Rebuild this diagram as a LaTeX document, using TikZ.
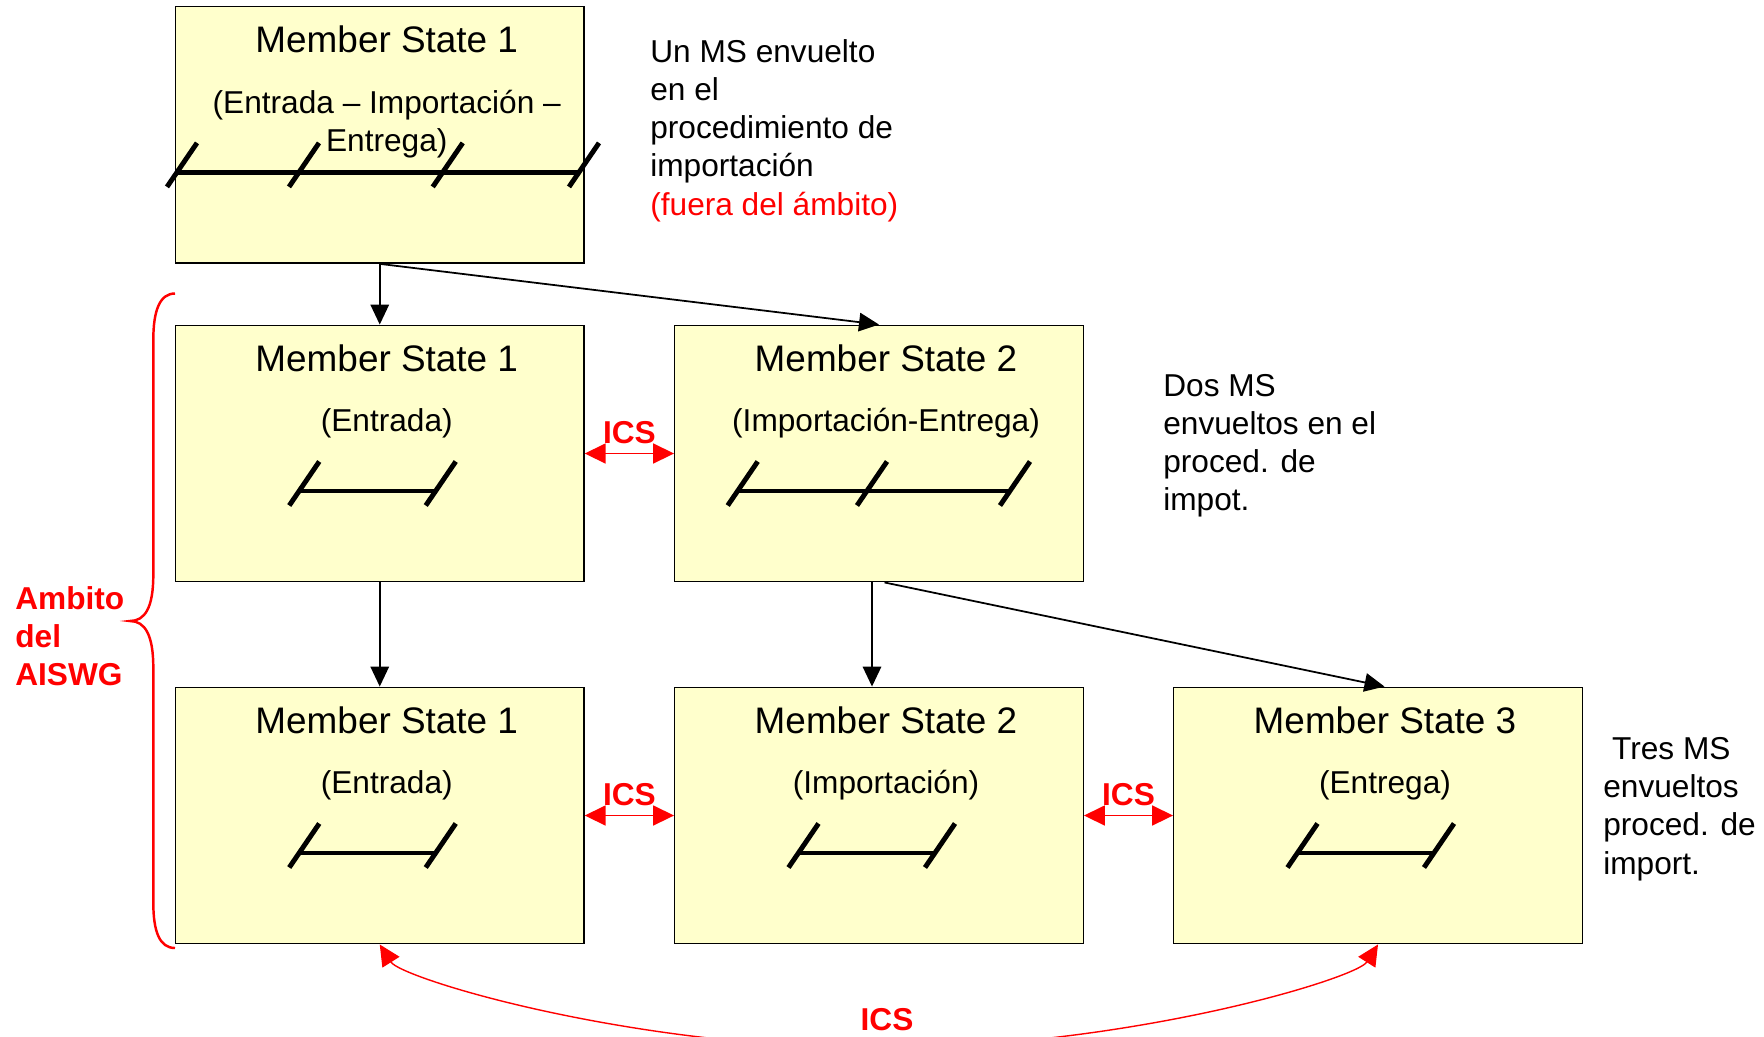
\documentclass[tikz,border=0pt]{standalone}
\usepackage{fontspec}
\setmainfont{Liberation Sans}
\usetikzlibrary{arrows.meta,positioning,calc}
\definecolor{boxcolor}{RGB}{255,255,204}
\definecolor{icsred}{RGB}{255,0,0}

\begin{document}
\begin{tikzpicture}[
    msbox/.style={draw, line width=0.8pt, fill=boxcolor, minimum width=8.17cm, minimum height=5.13cm, inner sep=0pt},
    mstitle/.style={anchor=base, font=\fontsize{21}{25}\selectfont, inner sep=0pt},
    mssub/.style={anchor=base, font=\fontsize{18}{21.7}\selectfont, align=center, inner sep=0pt},
    note/.style={anchor=base west, font=\fontsize{18}{21.7}\selectfont, align=left, inner sep=0pt},
    scopelabel/.style={anchor=base west, font=\fontsize{18}{21.7}\selectfont\bfseries, text=icsred, align=left, inner sep=0pt},
    flow/.style={-{Triangle[length=0.4cm,width=0.37cm]}, line width=1pt},
    ics/.style={{Triangle[length=0.42cm,width=0.4cm]}-{Triangle[length=0.42cm,width=0.4cm]}, line width=1pt, icsred},
    icslabel/.style={anchor=base, font=\fontsize{18}{21.7}\selectfont\bfseries, text=icsred, inner sep=0pt},
    timeline/.style={line width=2.8pt}
]
    \useasboundingbox (0,0) rectangle (35.28,-20.72);
    \clip (0,0) rectangle (35.28,-20.72);

    % Member State boxes
    \node[msbox] (ms1a) at (7.595,-2.698) {};
    \node[msbox] (ms1b) at (7.595,-9.07) {};
    \node[msbox] (ms2b) at (17.58,-9.07) {};
    \node[msbox] (ms1c) at (7.595,-16.31) {};
    \node[msbox] (ms2c) at (17.58,-16.31) {};
    \node[msbox] (ms3c) at (27.56,-16.31) {};

    % Titles
    \node[mstitle] (t1a) at ($(ms1a.north)+(0.14,-0.94)$) {Member State 1};
    \node[mstitle] (t1b) at ($(ms1b.north)+(0.14,-0.94)$) {Member State 1};
    \node[mstitle] (t2b) at ($(ms2b.north)+(0.14,-0.94)$) {Member State 2};
    \node[mstitle] (t1c) at ($(ms1c.north)+(0.14,-0.94)$) {Member State 1};
    \node[mstitle] (t2c) at ($(ms2c.north)+(0.14,-0.94)$) {Member State 2};
    \node[mstitle] (t3c) at ($(ms3c.north)+(0.14,-0.94)$) {Member State 3};

    % Procedures (base = last line)
    \node[mssub] (s1a) at ($(ms1a.north)+(0.14,-2.904)$) {(Entrada – Importación –\\Entrega)};
    \node[mssub] (s1b) at ($(ms1b.north)+(0.14,-2.14)$) {(Entrada)};
    \node[mssub] (s2b) at ($(ms2b.north)+(0.14,-2.14)$) {(Importación-Entrega)};
    \node[mssub] (s1c) at ($(ms1c.north)+(0.14,-2.14)$) {(Entrada)};
    \node[mssub] (s2c) at ($(ms2c.north)+(0.14,-2.14)$) {(Importación)};
    \node[mssub] (s3c) at ($(ms3c.north)+(0.14,-2.14)$) {(Entrega)};

    % Timelines
    \foreach \bx/\first/\last/\marks in {ms1a/-4.055/3.985/{-4.055,-1.615,1.26,3.985},
                                        ms1b/-1.61/1.12/{-1.61,1.12},
                                        ms2b/-2.826/2.62/{-2.826,-0.24,2.62},
                                        ms1c/-1.61/1.12/{-1.61,1.12},
                                        ms2c/-1.61/1.12/{-1.61,1.12},
                                        ms3c/-1.61/1.12/{-1.61,1.12}} {
        \draw[timeline] ($(\bx.center)+(\first,-0.75)$) -- ($(\bx.center)+(\last,-0.75)$);
        \foreach \t in \marks
            \draw[timeline] ($(\bx.center)+(\t,-0.75)+(-0.2,-0.29)$) -- ++(0.6,0.88);
    }

    % Flow between Member States
    \draw[flow] (ms1a.south) -- (ms1b.north);
    \draw[flow] (ms1a.south) -- (ms2b.north);
    \draw[flow] (ms1b.south) -- (ms1c.north);
    \draw[flow] ([xshift=-0.14cm]ms2b.south) -- ([xshift=-0.14cm]ms2c.north);
    \draw[flow] ([xshift=0.11cm]ms2b.south) -- ([xshift=0.13cm]ms3c.north);

    % ICS links
    \draw[ics] (ms1b.east) -- node[icslabel, yshift=0.2cm] (icsb) {ICS} (ms2b.west);
    \draw[ics] (ms1c.east) -- node[icslabel, yshift=0.2cm] (icsc) {ICS} (ms2c.west);
    \draw[ics] (ms2c.east) -- node[icslabel, yshift=0.2cm] (icsd) {ICS} (ms3c.west);
    \coordinate (low) at (17.58,-20.96);
    \draw[ics, line width=0.8pt] (ms1c.south) .. controls +(0.43,-0.68) and +(-5,0) .. (low)
        .. controls +(5,0) and +(-0.43,-0.68) .. (ms3c.south);
    \node[icslabel] (icse) at (17.74,-20.6) {ICS};

    % Scope of the AISWG
    \draw[icsred, line width=1.4pt] (3.5,-5.87) .. controls (3.2,-5.87) and (3.066,-6.2) .. (3.066,-6.8)
        -- (3.066,-11.5) .. controls (3.066,-12.15) and (2.9,-12.42) .. (2.6,-12.42)
        .. controls (2.9,-12.42) and (3.066,-12.7) .. (3.066,-13.35)
        -- (3.066,-18.05) .. controls (3.066,-18.65) and (3.2,-18.96) .. (3.5,-18.96);
    \node[scopelabel] (ambito) at (0.3,-13.716) {Ambito\\del\\AISWG};

    % Notes (base = last line)
    \node[note] (note1) at (13.0,-4.30) {Un MS envuelto\\en el\\procedimiento de\\importación\\\textcolor{icsred}{(fuera del ámbito)}};
    \node[note] (note2) at (23.26,-10.21) {Dos MS\\envueltos en el\\proced. de\\impot.};
    \node[note] (note3) at (32.06,-17.48) {\ Tres MS\\envueltos\\proced. de\\import.};
\end{tikzpicture}
\end{document}
